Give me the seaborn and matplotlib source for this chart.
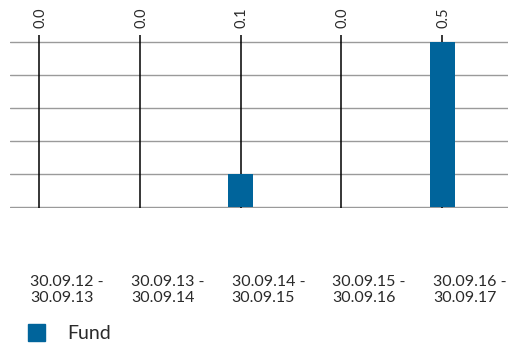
import pandas as pd
import matplotlib
import matplotlib.pyplot as plt
import matplotlib.transforms as mtransforms
from matplotlib.patches import Patch
import seaborn as sns

matplotlib.use("Agg")

# Data
periods = ["30.09.12 -\n30.09.13", "30.09.13 -\n30.09.14", "30.09.14 -\n30.09.15",
           "30.09.15 -\n30.09.16", "30.09.16 -\n30.09.17"]
fund_values = [0.0, 0.0, 0.1, 0.0, 0.5]
value_labels = ["0.0", "0.0", "0.1", "0.0", "0.5"]
series_name = "Fund"
y_ticks = [0.0, 0.1, 0.2, 0.3, 0.4, 0.5]

bar_color = "#00649b"
grid_color = "#9a9a9a"
text_color = "#2a2a2a"

df = pd.DataFrame({"Period": periods, "Value": fund_values, "Series": series_name})

sns.set_style("white")
plt.rcParams["font.family"] = ["Lato", "DejaVu Sans"]

fig = plt.figure(figsize=(5.08, 3.46), dpi=100)
ax = fig.add_axes([10 / 508, 1 - 208 / 346, 1 - 10 / 508, (208 - 41) / 346])

# leader lines from the value labels down to the base line (behind the bars)
x_pos = list(range(len(periods)))
trans = mtransforms.blended_transform_factory(ax.transData, ax.transAxes)
ax.vlines(x_pos, 0, 1.036, transform=trans, colors="black", lw=1.1,
          zorder=2, clip_on=False)

sns.barplot(df, x="Period", y="Value", color=bar_color, width=0.25,
            linewidth=0, saturation=1, ax=ax, zorder=3)

for x, lab in zip(x_pos, value_labels):
    ax.text(x + 0.01, 1.075, lab, transform=trans, rotation=90, ha="center",
            va="bottom", fontsize=10.5, color=text_color, clip_on=False)

ax.set_xlim(-0.291, 4.654)
ax.set_ylim(-0.002, 0.502)
ax.set_yticks(y_ticks)
ax.set_yticklabels([])
ax.yaxis.grid(True, color=grid_color, lw=1.0)
ax.set_axisbelow(True)
for s in ax.spines.values():
    s.set_visible(False)
ax.set_xlabel(None)
ax.set_ylabel(None)

ax.tick_params(axis="x", length=0, pad=48, labelsize=11.5, labelcolor=text_color)
ax.tick_params(axis="y", length=0)
shift = mtransforms.ScaledTranslation(-9 / 100, 0, fig.dpi_scale_trans)
for lab in ax.get_xticklabels():
    lab.set_horizontalalignment("left")
    lab.set_linespacing(1.2)
    lab.set_transform(lab.get_transform() + shift)

handles = [Patch(facecolor=bar_color, edgecolor=bar_color, label=series_name)]
fig.legend(handles=handles, loc="center left", bbox_to_anchor=(10 / 508, 1 - 333 / 346),
           frameon=False, fontsize=14, handlelength=0.9, handleheight=1.0,
           handletextpad=1.15, labelcolor=text_color)

fig.savefig("out.png", dpi=100)
plt.close(fig)
